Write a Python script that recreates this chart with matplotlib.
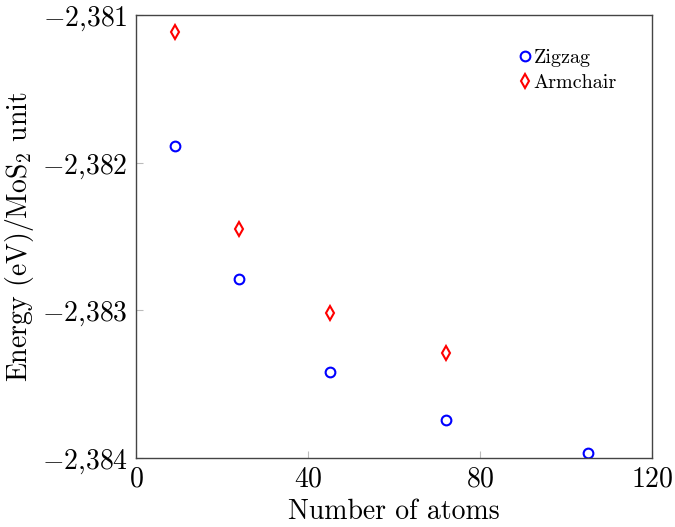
import matplotlib
matplotlib.use("Agg")
import matplotlib.pyplot as plt

plt.rcParams['font.family'] = 'serif'
plt.rcParams['font.serif'] = ['cmr10']
plt.rcParams['mathtext.fontset'] = 'cm'
plt.rcParams['axes.formatter.use_mathtext'] = True

zigzag_x = [9, 24, 45, 72, 105]
zigzag_y = [-2.381885, -2.382788, -2.383415, -2.383743, -2.383965]
armchair_x = [9, 24, 45, 72]
armchair_y = [-2.381115, -2.382451, -2.383020, -2.383287]

xticks = [0, 40, 80, 120]
xtick_labels = ['$0$', '$40$', '$80$', '$120$']
yticks = [-2.384, -2.383, -2.382, -2.381]
ytick_labels = [r'$-2{,}384$', r'$-2{,}383$', r'$-2{,}382$', r'$-2{,}381$']

fig = plt.figure(figsize=(6.75, 5.27), dpi=100)
ax = fig.add_axes([0.2015, 0.1309, 0.7645, 0.8406])

ax.plot(zigzag_x, zigzag_y, linestyle='none', marker='o', markersize=7,
        markerfacecolor='none', markeredgecolor='blue', markeredgewidth=1.5, label='Zigzag')
ax.plot(armchair_x, armchair_y, linestyle='none', marker='d', markersize=7.5,
        markerfacecolor='none', markeredgecolor='red', markeredgewidth=1.5, label='Armchair')

ax.set_xlim(0, 120)
ax.set_ylim(-2.384, -2.381)
ax.set_xticks(xticks)
ax.set_xticklabels(xtick_labels)
ax.set_yticks(yticks)
ax.set_yticklabels(ytick_labels)

ax.tick_params(direction='in', length=5, width=0.8, color='#bbbbbb',
               labelsize=20, pad=6)
for s in ax.spines.values():
    s.set_color('#444444')
    s.set_linewidth(1.0)

ax.set_xlabel('Number of atoms', fontsize=20, labelpad=4)
ax.set_ylabel(r'Energy (eV)/MoS$_2$ unit', fontsize=20, labelpad=4)

ax.legend(loc='upper right', frameon=False, fontsize=14.5, handlelength=0.6,
          handletextpad=0.1, borderaxespad=0.2, bbox_to_anchor=(0.955, 0.95),
          labelspacing=0.35)

fig.savefig('out.png', dpi=100)
